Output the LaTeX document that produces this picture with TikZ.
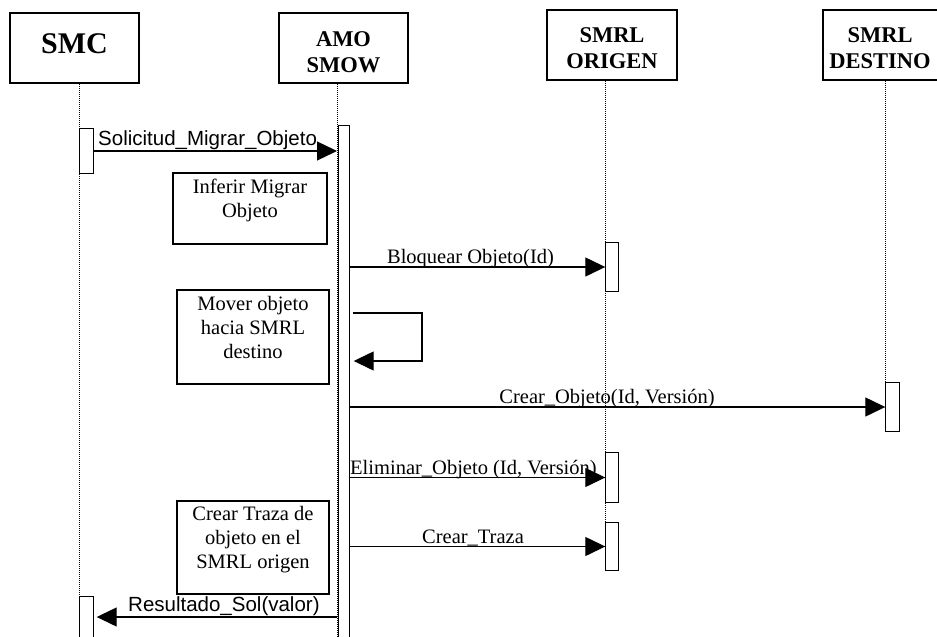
\documentclass[tikz,border=0pt]{standalone}
\usepackage{fontspec}
\setmainfont{Liberation Serif}
\newfontfamily\arialfont{Liberation Sans}
\usetikzlibrary{arrows.meta}
\begin{document}
\begin{tikzpicture}[x=1pt,y=-1pt,
  hdr/.style={draw, line width=2pt, minimum width=129pt, minimum height=70pt, inner sep=0pt},
  hdrtxt/.style={font=\fontsize{22.5}{26}\selectfont\bfseries, align=center, inner sep=0pt, anchor=north},
  act/.style={draw, line width=1.4pt, fill=white, inner sep=0pt},
  note/.style={draw, line width=1.8pt, inner sep=0pt},
  notetxt/.style={font=\fontsize{20.5}{24}\selectfont, align=center, inner sep=0pt, anchor=north},
  life/.style={line width=1pt, dash pattern=on 1pt off 1pt},
  msg/.style={line width=1.3pt, -{Triangle[length=20pt,width=19pt]}},
  lbl/.style={font=\fontsize{20.5}{24}\selectfont, inner sep=0pt, anchor=base},
  sanslbl/.style={font=\arialfont\fontsize{20.5}{24}\selectfont, inner sep=0pt, anchor=base west}]
\useasboundingbox (0,0) rectangle (937,637);
\clip (0,0) rectangle (937,637);
% headers
\node[hdr] (smc) at (74.5,48) {};
\node[hdr] (amo) at (343.5,48) {};
\node[hdr, minimum width=130pt] (org) at (612,45) {};
\node[hdr, minimum width=130pt] (dst) at (888,45) {};
\node[font=\fontsize{30}{34}\selectfont\bfseries, inner sep=0pt, anchor=base] (smct) at (74.5,53) {SMC};
\node[hdrtxt] (amot) at (343.5,31.5) {AMO\\SMOW};
\node[hdrtxt] (orgt) at (612,27) {SMRL\\ORIGEN};
\node[hdrtxt] (dstt) at (880,27) {SMRL\\DESTINO};
% activation geometry
\coordinate (amoL) at (337,0);
\coordinate (bot) at (0,645);
\node[act, draw=none, fill=none, minimum width=13pt, minimum height=44pt] (smcA1) at (86.5,151) {};
\node[act, draw=none, fill=none, minimum width=13pt, minimum height=48pt] (smcA2) at (86.5,621) {};
\node[act, draw=none, fill=none, minimum width=12pt, minimum height=48pt] (orgA1) at (612,267) {};
\node[act, draw=none, fill=none, minimum width=12pt, minimum height=49pt] (orgA2) at (612,477.5) {};
\node[act, draw=none, fill=none, minimum width=12pt, minimum height=47pt] (orgA3) at (612,546.5) {};
\node[act, draw=none, fill=none, minimum width=13pt, minimum height=48pt] (dstA) at (892.5,407) {};
\node[act, draw=none, fill=none, minimum width=10pt, minimum height=519pt] (amoA) at (344,385.5) {};
% lifelines
\draw[life] (smcA1.north west |- smc.south) -- (smcA2.north west);
\draw[life] (amoL |- amo.south) -- (amoL |- bot);
\draw[life] (orgA1.north west |- org.south) -- (orgA3.north west);
\draw[life] (dstA.north west |- dst.south) -- (dstA.north west);
% notes
\node[note, minimum width=154pt, minimum height=71pt] (inf) at (250,208.5) {};
\node[notetxt] (inft) at (250,179) {Inferir Migrar\\Objeto};
\node[note, minimum width=152pt, minimum height=94pt] (mov) at (253,337) {};
\node[notetxt] (movt) at (253,296) {Mover objeto\\hacia SMRL\\destino};
\node[note, minimum width=152pt, minimum height=93pt] (trz) at (253,547.5) {};
\node[notetxt] (trzt) at (253,506) {Crear Traza de\\objeto en el\\SMRL origen};
% activation boxes drawn
\foreach \n in {smcA1,smcA2,orgA1,orgA2,orgA3,dstA,amoA}
  \draw[line width=1.4pt, fill=white] (\n.north west) rectangle (\n.south east);
% messages
\coordinate (r) at (0,617);
\coordinate (sy1) at (0,313);
\coordinate (sy2) at (0,361);
\coordinate (sl1) at ([xshift=3pt]amoA.east |- sy1);
\coordinate (sl2) at ([xshift=4pt]amoA.east |- sy2);
\draw[msg] (smcA1.east) -- (amoL |- smcA1.east);
\draw[msg] (amoA.east |- orgA1.west) -- (orgA1.west);
\draw[msg] (sl1) -| (422,361) -- (sl2);
\draw[msg] (amoA.east |- dstA.west) -- (dstA.west);
\draw[msg] (amoA.east |- orgA2.west) -- (orgA2.west);
\draw[msg] (amoA.east |- orgA3.west) -- (orgA3.west);
\draw[msg] (amoL |- r) -- ([xshift=3pt]smcA2.east |- r);
% labels
\node[sanslbl] (l1) at (98,145) {Solicitud\_Migrar\_Objeto};
\node[lbl] (l2) at (470.5,263) {Bloquear Objeto(Id)};
\node[lbl] (l3) at (607,403) {Crear\_Objeto(Id, Versión)};
\node[lbl, anchor=base west] (l4) at (350,474) {Eliminar\_Objeto (Id, Versión)};
\node[lbl] (l5) at (473,543) {Crear\_Traza};
\node[sanslbl] (l6) at (128,611) {Resultado\_Sol(valor)};
\end{tikzpicture}
\end{document}
